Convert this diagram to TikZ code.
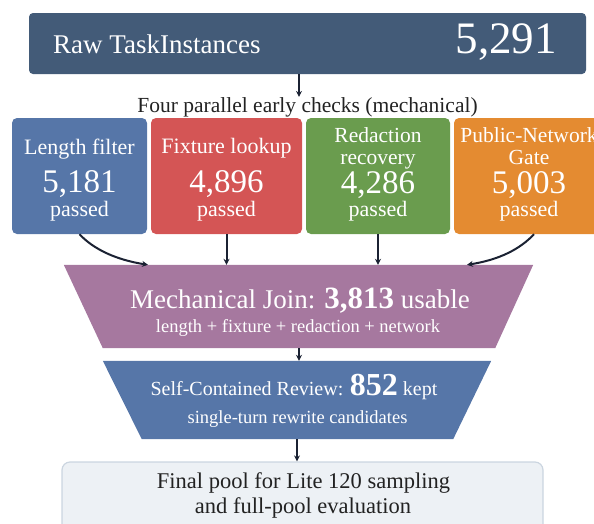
\documentclass[tikz,border=0pt]{standalone}
\usepackage{fontspec}
\setmainfont{Liberation Serif}
\usetikzlibrary{arrows.meta}
\definecolor{topc}{HTML}{435B78}
\definecolor{bluec}{HTML}{5676A8}
\definecolor{redc}{HTML}{D45555}
\definecolor{greenc}{HTML}{6A9C4E}
\definecolor{orangec}{HTML}{E48B31}
\definecolor{purplec}{HTML}{A6789F}
\definecolor{finalfill}{HTML}{EDF1F5}
\definecolor{finaldraw}{HTML}{CBD5E0}
\definecolor{arrowc}{HTML}{1B2233}
\definecolor{darktext}{HTML}{222222}
\newcommand\fsz[1]{\fontsize{#1}{#1}\selectfont}
\begin{document}
\begin{tikzpicture}[x=1pt,y=-1pt,
  box/.style={rectangle, rounded corners=5pt, inner sep=0pt},
  bt/.style={text=white, inner sep=0pt, anchor=base},
  dt/.style={text=darktext, inner sep=0pt, anchor=base},
  conn/.style={draw=arrowc, line width=2pt, -{Stealth[length=6pt,width=6pt]}}]
\useasboundingbox (0,0) rectangle (594,523);
\clip (0,0) rectangle (594,523);
% top box
\node[box, rounded corners=4pt, fill=topc, minimum width=557pt, minimum height=61pt] (raw) at (307.5,43.5) {};
\node[bt, anchor=base west] (rawt) at (53,53) {\fsz{27}Raw TaskInstances};
\node[bt, anchor=base east] (rawn) at (557,53) {\fsz{45}5,291};
% label
\node[dt] (lbl) at (307.5,112) {\fsz{21.5}Four parallel early checks (mechanical)};
\draw[conn] ([xshift=-8.5pt]raw.south) -- ([xshift=-8.5pt]raw.south |- lbl.north);
% four boxes
\node[box, fill=bluec, minimum width=135pt, minimum height=116pt] (b1) at (79.5,176) {};
\node[box, fill=redc, minimum width=151pt, minimum height=116pt] (b2) at (226.5,176) {};
\node[box, fill=greenc, minimum width=144pt, minimum height=116pt] (b3) at (378,176) {};
\node[box, fill=orangec, minimum width=150pt, minimum height=116pt] (b4) at (529,176) {};
% box texts
\node[bt] (b1a) at (79.5,154) {\fsz{22}Length filter};
\node[bt] (b1n) at (79.5,192) {\fsz{33}5,181};
\node[bt] (b1p) at (79.5,216) {\fsz{22}passed};
\node[bt] (b2a) at (226.5,153) {\fsz{22}Fixture lookup};
\node[bt] (b2n) at (226.5,192) {\fsz{33}4,896};
\node[bt] (b2p) at (226.5,216) {\fsz{22}passed};
\node[bt] (b3a) at (378,142) {\fsz{21.5}Redaction};
\node[bt] (b3b) at (378,164) {\fsz{21.5}recovery};
\node[bt] (b3n) at (378,193) {\fsz{33}4,286};
\node[bt] (b3p) at (378,216) {\fsz{22}passed};
\node[bt] (b4a) at (529,142) {\fsz{21.5}Public-Network};
\node[bt] (b4b) at (529,164) {\fsz{21.5}Gate};
\node[bt] (b4n) at (529,193) {\fsz{33}5,003};
\node[bt] (b4p) at (529,216) {\fsz{22}passed};
% mechanical join trapezoid
\node[inner sep=0pt, minimum width=469pt, minimum height=83pt] (join) at (298.5,306.5) {};
\fill[purplec] (join.north west) -- (join.north east) -- ([xshift=-38pt]join.south east) -- ([xshift=39pt]join.south west) -- cycle;
\node[bt] (joint) at (300,308) {\fsz{27}Mechanical Join: {\bfseries\fsz{31}3,813} usable};
\node[bt] (joins) at (298,332) {\fsz{18.5}length + fixture + redaction + network};
% connectors from boxes
\draw[conn] (b1.south) .. controls +(14,15) and +(-32,-5) .. ([xshift=-150.5pt]join.north);
\draw[conn] (b2.south) -- (b2.south |- join.north);
\draw[conn] (b3.south) -- (b3.south |- join.north);
\draw[conn] ([xshift=5pt]b4.south) .. controls +(-14,15) and +(32,-5) .. ([xshift=168.5pt]join.north);
% self-contained review trapezoid
\node[inner sep=0pt, minimum width=388pt, minimum height=78pt] (rev) at (297,400) {};
\fill[bluec] (rev.north west) -- (rev.north east) -- ([xshift=-38pt]rev.south east) -- ([xshift=39pt]rev.south west) -- cycle;
\node[bt] (revt) at (294,395) {\fsz{20}Self-Contained Review: {\bfseries\fsz{32}852} kept};
\node[bt] (revs) at (297.5,423) {\fsz{18.5}single-turn rewrite candidates};
\draw[conn] ([xshift=0.5pt]join.south) -- ([xshift=0.5pt]join.south |- rev.north);
% final pool
\node[box, rounded corners=8pt, fill=finalfill, draw=finaldraw, line width=1.2pt, minimum width=481pt, minimum height=80pt] (fin) at (302.5,502) {};
\node[dt] (fin1) at (303.5,488) {\fsz{22.5}Final pool for Lite 120 sampling};
\node[dt] (fin2) at (303,513) {\fsz{22.5}and full-pool evaluation};
\draw[conn] (rev.south) -- (rev.south |- fin.north);
\end{tikzpicture}
\end{document}
